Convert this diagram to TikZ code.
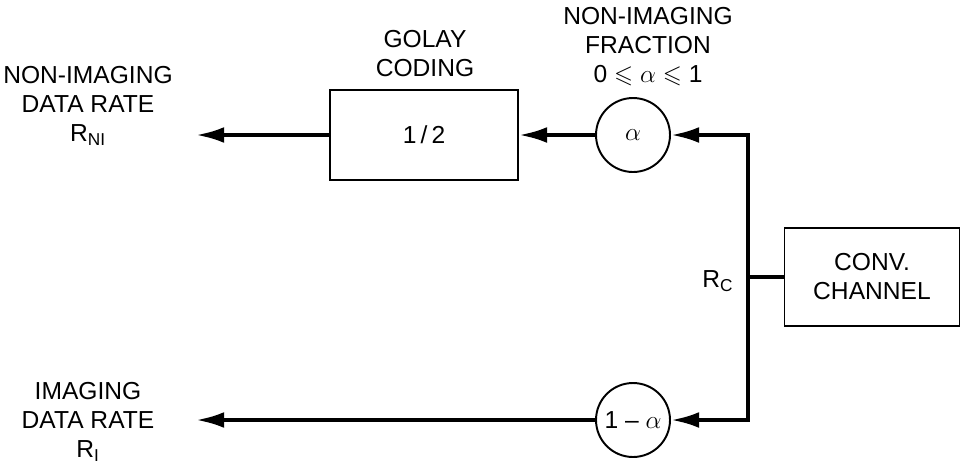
\documentclass[tikz,border=0pt]{standalone}
\usepackage{amssymb}
\usepackage{fontspec}
\setmainfont{Liberation Sans}
\usetikzlibrary{positioning,arrows.meta,calc}

\tikzset{
  block/.style={draw, line width=1.1pt, align=center},
  frac/.style={draw, circle, line width=1.1pt, minimum size=1.48cm, inner sep=0pt},
  flow/.style={line width=2.2pt, -{Latex[length=16pt,width=9pt]}},
  lbl/.style={align=center, font=\fontsize{14}{16.5}\selectfont}
}

\begin{document}
\begin{tikzpicture}[x=0.02cm,y=-0.02cm, font=\fontsize{14}{16.5}\selectfont]
\useasboundingbox (0,0) rectangle (963,467);
% blocks
\node[block, minimum width=3.76cm, minimum height=1.8cm] (golay) at (424,135) {1\,/\,2};
\node[block, minimum width=3.5cm, minimum height=1.96cm] (conv) at (872,277) {CONV.\\CHANNEL};
% fraction circles
\node[frac] (na) at (633,135) {$\alpha$};
\node[frac] (ia) at (633,420) {1 -- $\alpha$};
% labels
\node[lbl] (golaytxt) at (425,54) {GOLAY\\CODING};
\node[lbl] (fractxt) at (648,47) {NON-IMAGING\\FRACTION\\0 $\leqslant$ $\alpha$ $\leqslant$ 1};
\node[lbl] (nirate) at (88,106) {NON-IMAGING\\DATA RATE\\R\textsubscript{NI}};
\node[lbl] (irate) at (88,422) {IMAGING\\DATA RATE\\R\textsubscript{I}};
\node[lbl] (rc) at (718,281) {R\textsubscript{C}};
% connectors
\coordinate (tap) at (748,277);
\coordinate (niend) at (196,135);
\coordinate (iend) at (196,420);
\draw[line width=2.2pt] (conv.west) -- (tap);
\draw[flow] (tap) |- (na.east);
\draw[flow] (tap) |- (ia.east);
\draw[flow] (na.west) -- (golay.east);
\draw[flow] (golay.west) -- (niend);
\draw[flow] (ia.west) -- (iend);
\end{tikzpicture}
\end{document}
